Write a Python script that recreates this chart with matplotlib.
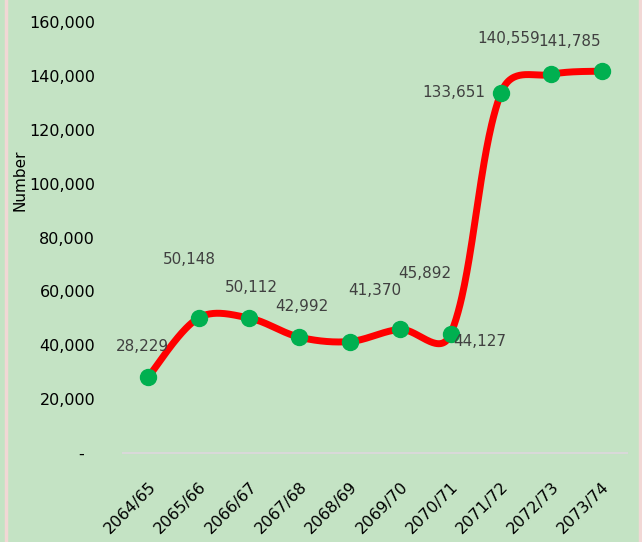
import numpy as np
import matplotlib
matplotlib.use('Agg')
import matplotlib.pyplot as plt
from matplotlib.lines import Line2D

years = ['2064/65', '2065/66', '2066/67', '2067/68', '2068/69',
         '2069/70', '2070/71', '2071/72', '2072/73', '2073/74']
values = [28229, 50148, 50112, 42992, 41370, 45892, 44127, 133651, 140559, 141785]

# label offsets in points (dx, dy) and alignment, like Excel's placed labels
label_pos = [(-4, 22, 'center'), (-7, 42, 'center'), (2, 22, 'center'),
             (2, 22, 'center'), (18, 37, 'center'), (18, 40, 'center'),
             (21, -5, 'center'), (-11, 0, 'right'), (-31, 26, 'center'),
             (-23, 21, 'center')]

BG = '#c4e3c4'

plt.rcParams.update({
    'font.family': ['DejaVu Sans'],
    'font.size': 11,
})


def smooth(xs, ys, sx=1.0, sy=1.0, alpha=0.5, n=60):
    # weighted bezier smoothing (close to Excel's smoothed line);
    # distances measured in scaled (screen-like) units
    P = np.column_stack([np.asarray(xs, float) * sx, np.asarray(ys, float) * sy])
    m = len(P)
    d = np.linalg.norm(np.diff(P, axis=0), axis=1) ** alpha
    out = []
    for i in range(m - 1):
        p0 = P[i - 1] if i > 0 else P[i]
        p3 = P[i + 2] if i + 2 < m else P[i + 1]
        p1, p2 = P[i], P[i + 1]
        dp = d[i - 1] if i > 0 else d[i]
        dn = d[i + 1] if i + 2 < m else d[i]
        c1 = p1 + (p2 - p0) / 3 * d[i] / (dp + d[i])
        c2 = p2 - (p3 - p1) / 3 * d[i] / (d[i] + dn)
        t = np.linspace(0, 1, n)[:, None]
        b = (1 - t)**3 * p1 + 3 * (1 - t)**2 * t * c1 + 3 * (1 - t) * t**2 * c2 + t**3 * p2
        out.append(b)
    B = np.vstack(out)
    return B[:, 0] / sx, B[:, 1] / sy


fig = plt.figure(figsize=(6.42, 5.42), dpi=100, facecolor=BG)
ax = fig.add_axes([123 / 642, 1 - 453 / 542, (627 - 123) / 642, (453 - 22) / 542])
ax.set_facecolor(BG)

x = np.arange(len(years))
# approx pixels per category and per unit value
sxp, syp = 50.4, 431 / 160000
cx, cy = smooth(x, values, sxp, syp)
ax.plot(cx, cy, color='#ff0000', lw=5, solid_capstyle='round', zorder=2)
ax.plot(x, values, 'o', color='#00b050', ms=11.5, mec='#00b050', zorder=3)

for xi, v, (dx, dy, ha) in zip(x, values, label_pos):
    ax.annotate(f'{v:,}', (xi, v), xytext=(dx, dy), textcoords='offset points',
                ha=ha, va='center', fontsize=11, color='#404040')

ax.set_xlim(-0.5, len(years) - 0.5)
ax.set_ylim(0, 160000)
yt = np.arange(0, 160001, 20000)
ax.set_yticks(yt)
ax.set_yticklabels(['-  ' if t == 0 else f'{t:,}' for t in yt])
ax.set_xticks(x)
ax.set_xticklabels(years, rotation=45, ha='right', rotation_mode='anchor')
ax.tick_params(axis='y', length=0, pad=20, labelsize=11.5)
ax.tick_params(axis='x', length=0, pad=19, labelsize=11.5)

for s in ['top', 'right', 'left']:
    ax.spines[s].set_visible(False)
ax.spines['bottom'].set_color('#d9d9d9')
ax.spines['bottom'].set_linewidth(1.5)

fig.text(20 / 642, 1 - 180 / 542, 'Number', rotation=90, ha='center', va='center',
         fontsize=11)

# pinkish chart-area border lines on the sides
for xp in (6 / 642, 639.5 / 642):
    fig.add_artist(Line2D([xp, xp], [0, 1], color='#f2d7d5', lw=2.5,
                          transform=fig.transFigure))

fig.savefig('out.png', dpi=100, facecolor=BG)
